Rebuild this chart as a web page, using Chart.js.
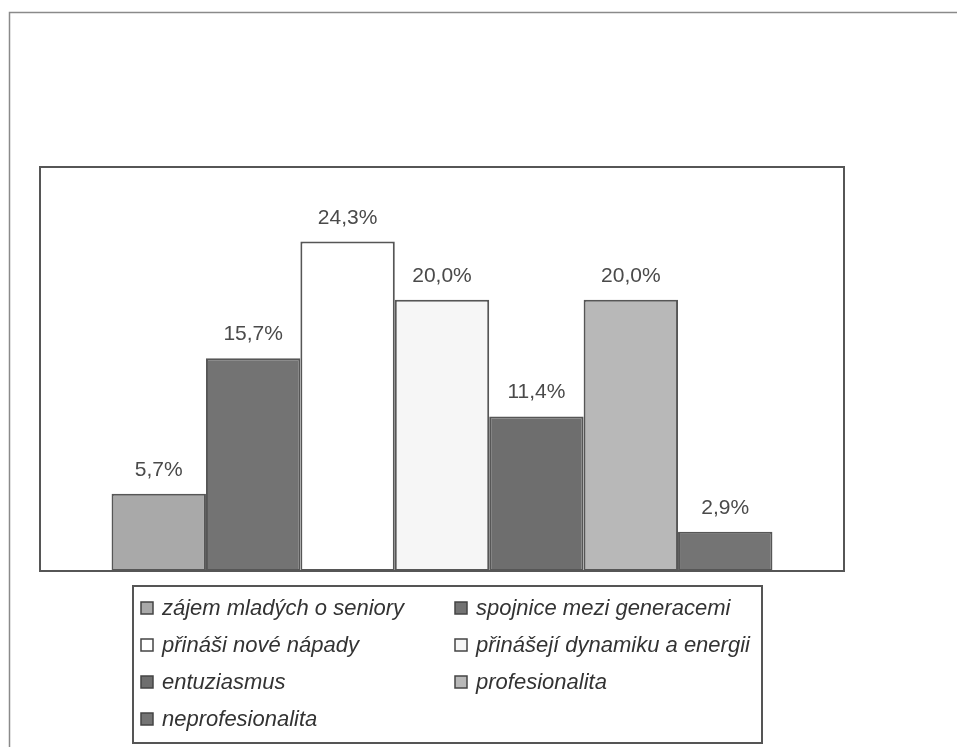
<!DOCTYPE html>
<html>
<head>
<meta charset="utf-8">
<script src="https://cdn.jsdelivr.net/npm/chart.js@4/dist/chart.umd.min.js"></script>
<style>
html,body{margin:0;padding:0;background:#fff;overflow:hidden;}
#wrap{position:relative;width:957px;height:747px;}
</style>
</head>
<body>
<div id="wrap"><canvas id="c" width="957" height="747"></canvas></div>
<script>
const categories = [''];
const seriesNames = [
  'zájem mladých o seniory',
  'spojnice mezi generacemi',
  'přináši nové nápady',
  'přinášejí dynamiku a energii',
  'entuziasmus',
  'profesionalita',
  'neprofesionalita'
];
const seriesValues = [5.7, 15.7, 24.3, 20.0, 11.4, 20.0, 2.9];
const seriesColors = ['#a9a9a9', '#737373', '#ffffff', '#f6f6f6', '#6e6e6e', '#b8b8b8', '#747474'];
const yMin = 0;
const yMax = 29.8;

const fmt = v => v.toFixed(1).replace('.', ',') + '%';

const datasets = seriesNames.map((n, i) => ({
  label: n,
  data: [seriesValues[i]],
  backgroundColor: seriesColors[i],
  borderColor: '#565656',
  borderWidth: 2,
  borderSkipped: false,
  categoryPercentage: 0.822,
  barPercentage: 1.0
}));

const decor = {
  id: 'decor',
  beforeDraw(chart) {
    const ctx = chart.ctx;
    ctx.save();
    ctx.fillStyle = '#fff';
    ctx.fillRect(0, 0, chart.width, chart.height);
    // outer frame
    ctx.strokeStyle = '#8a8a8a';
    ctx.lineWidth = 1.5;
    ctx.beginPath();
    ctx.moveTo(9.5, 760);
    ctx.lineTo(9.5, 12.5);
    ctx.lineTo(970, 12.5);
    ctx.stroke();
    ctx.restore();
  },
  afterDatasetsDraw(chart) {
    const ctx = chart.ctx;
    const a = chart.chartArea;
    ctx.save();
    // plot border
    ctx.strokeStyle = '#565656';
    ctx.lineWidth = 2;
    ctx.strokeRect(a.left, a.top, a.right - a.left, a.bottom - a.top);
    // value labels
    ctx.fillStyle = '#4a4a4a';
    ctx.font = '21px "Liberation Sans", Arial, sans-serif';
    ctx.textAlign = 'center';
    ctx.textBaseline = 'alphabetic';
    chart.data.datasets.forEach((ds, i) => {
      const bar = chart.getDatasetMeta(i).data[0];
      ctx.fillText(fmt(ds.data[0]), bar.x, bar.y - 18);
    });
    // legend
    const lx = 133, ly = 586, lw = 629, lh = 157;
    ctx.strokeStyle = '#555';
    ctx.lineWidth = 2;
    ctx.strokeRect(lx, ly, lw, lh);
    ctx.font = 'italic 22px "Liberation Sans", Arial, sans-serif';
    ctx.textAlign = 'left';
    chart.data.datasets.forEach((ds, i) => {
      const col = i % 2, row = Math.floor(i / 2);
      const sx = col === 0 ? 141 : 455;
      const cy = 608 + row * 37;
      ctx.fillStyle = ds.backgroundColor;
      ctx.fillRect(sx, cy - 6, 12, 12);
      ctx.strokeStyle = '#444';
      ctx.lineWidth = 1.5;
      ctx.strokeRect(sx, cy - 6, 12, 12);
      ctx.fillStyle = '#333';
      ctx.fillText(ds.label, sx + 21, cy + 7);
    });
    ctx.restore();
  }
};

new Chart(document.getElementById('c'), {
  type: 'bar',
  data: { labels: categories, datasets },
  options: {
    responsive: false,
    animation: false,
    layout: { padding: { left: 40, right: 113, top: 167, bottom: 176 } },
    plugins: { legend: { display: false }, tooltip: { enabled: false } },
    scales: {
      x: { display: false },
      y: { display: false, min: yMin, max: yMax }
    }
  },
  plugins: [decor]
});
</script>
</body>
</html>
